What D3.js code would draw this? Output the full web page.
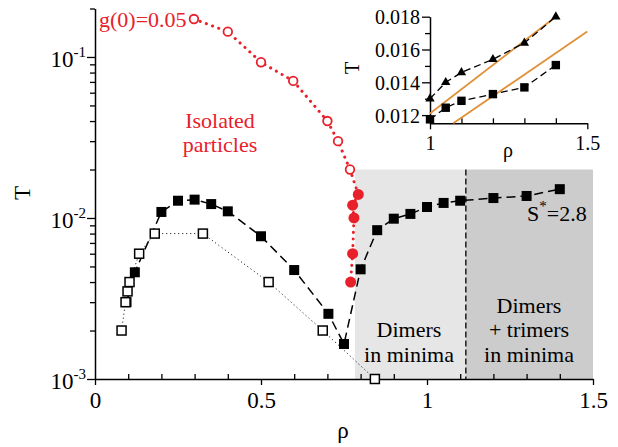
<!DOCTYPE html>
<html>
<head>
<meta charset="utf-8">
<script src="https://cdn.jsdelivr.net/npm/d3@7"></script>
<style>
  body { margin: 0; background: #fff; }
  svg text { font-family: "Liberation Serif", "Times New Roman", serif; }
</style>
</head>
<body>
<div id="chart"></div>
<script>
// main panel data
const rhoFilled = [0.095, 0.12, 0.2, 0.25, 0.3, 0.35, 0.4, 0.5, 0.6, 0.703, 0.75,
                   0.8, 0.85, 0.9, 0.95, 1.0, 1.05, 1.1, 1.2, 1.3, 1.4];
const tFilled = [0.003, 0.0046, 0.0109, 0.0128, 0.013, 0.0122, 0.011, 0.0077, 0.00475, 0.00254, 0.00165,
                 0.0048, 0.0084, 0.0099, 0.0106, 0.0117, 0.0124, 0.0128, 0.0133, 0.0137, 0.0151];
const rhoOpen = [0.08, 0.092, 0.098, 0.104, 0.133, 0.18, 0.325, 0.523, 0.686, 0.843];
const tOpen = [0.002, 0.003, 0.0035, 0.004, 0.006, 0.008, 0.008, 0.004, 0.002, 0.001];
const rhoRedOpen = [0.298, 0.4, 0.5, 0.597, 0.7, 0.732, 0.768];
const tRedOpen = [0.172, 0.1436, 0.0927, 0.071, 0.040, 0.030, 0.020];
const rhoRedFilled = [0.793, 0.776, 0.780, 0.776, 0.770];
const tRedFilled = [0.014, 0.012, 0.010, 0.006, 0.004];
const regionEdges = [0.783, 1.117, 1.5]; // dimers | dimers + trimers
const regionTop = 0.02;
const xMajor = [0, 0.5, 1, 1.5];
const xMinor = [0.1, 0.2, 0.3, 0.4, 0.6, 0.7, 0.8, 0.9, 1.1, 1.2, 1.3, 1.4];
const yMajor = [1e-3, 1e-2, 1e-1];
const yExp = ['-3', '-2', '-1'];

// inset data
const insetRho = [1.0, 1.05, 1.1, 1.2, 1.3, 1.4];
const insetTri = [0.0130, 0.0140, 0.0146, 0.0154, 0.0164, 0.0180];
const insetSq = [0.01174, 0.01245, 0.01287, 0.01328, 0.01369, 0.01505];
const fitA = [[1.0, 0.0121], [1.4, 0.0180]];
const fitB = [[1.074, 0.0115], [1.5, 0.0171]];
const insetYMajor = [0.012, 0.014, 0.016, 0.018];
const insetYMinor = [0.013, 0.015, 0.017];
const insetXMajor = [1, 1.5];
const insetXMinor = [1.1, 1.2, 1.3, 1.4];

const red = '#e8202a';
const orange = '#e0913a';

const svg = d3.select('#chart').append('svg')
  .attr('width', 618).attr('height', 447);

const x = d3.scaleLinear().domain([0, 1.5]).range([95, 593]);
const y = d3.scaleLog().domain([0.001, 0.2]).range([379, 8.5]);

// shaded regions
svg.append('rect')
  .attr('x', x(regionEdges[0])).attr('y', y(regionTop))
  .attr('width', x(regionEdges[1]) - x(regionEdges[0]))
  .attr('height', y(0.001) - y(regionTop))
  .attr('fill', '#e6e6e6');
svg.append('rect')
  .attr('x', x(regionEdges[1])).attr('y', y(regionTop))
  .attr('width', x(regionEdges[2]) - x(regionEdges[1]))
  .attr('height', y(0.001) - y(regionTop))
  .attr('fill', '#cccccc');
svg.append('line')
  .attr('x1', x(regionEdges[1])).attr('x2', x(regionEdges[1]))
  .attr('y1', y(regionTop)).attr('y2', y(0.001))
  .attr('stroke', '#000').attr('stroke-width', 1.3)
  .attr('stroke-dasharray', '6,3');

// axes
function styleAxis(g) {
  g.selectAll('path').attr('stroke', '#000').attr('stroke-width', 1.5);
  g.selectAll('line').attr('stroke', '#000').attr('stroke-width', 1.3);
}
svg.append('g').attr('transform', 'translate(0,379)')
  .call(d3.axisBottom(x).tickValues(xMajor).tickSize(6).tickSizeOuter(0).tickFormat(d3.format('')))
  .call(styleAxis)
  .call(g => g.selectAll('text').attr('font-size', 23).attr('dy', 0).attr('y', 29)
    .attr('fill', '#000').style('font-family', '"Liberation Serif", serif'));
svg.append('g').attr('transform', 'translate(0,379)')
  .call(d3.axisBottom(x).tickValues(xMinor).tickSize(-5).tickSizeOuter(0).tickFormat(''))
  .call(styleAxis)
  .call(g => g.select('path').remove());

const yMinor = [];
[1e-3, 1e-2, 1e-1].forEach(d => [2, 3, 4, 5, 6, 7, 8, 9].forEach(k => {
  if (k * d <= 0.2) yMinor.push(k * d);
}));
svg.append('g').attr('transform', 'translate(95,0)')
  .call(d3.axisLeft(y).tickValues(yMajor).tickSize(8).tickSizeOuter(0).tickFormat(''))
  .call(styleAxis);
svg.append('g').attr('transform', 'translate(95,0)')
  .call(d3.axisLeft(y).tickValues(yMinor).tickSize(5).tickFormat(''))
  .call(styleAxis)
  .call(g => g.select('path').remove());
yMajor.forEach((d, i) => {
  const t = svg.append('text')
    .attr('x', 86).attr('y', y(d) + 10)
    .attr('text-anchor', 'end').attr('font-size', 23);
  t.append('tspan').text('10');
  t.append('tspan').attr('dy', -10).attr('font-size', 15).text(yExp[i]);
});

svg.append('text').attr('x', 343).attr('y', 438).attr('text-anchor', 'middle')
  .attr('font-size', 23).text('ρ');
svg.append('text').attr('transform', 'translate(30,193) rotate(-90)')
  .attr('text-anchor', 'middle').attr('font-size', 23).text('T');

// lines
const line = d3.line().x(d => x(d[0])).y(d => y(d[1]));
const filledPts = d3.zip(rhoFilled, tFilled);
const openPts = d3.zip(rhoOpen, tOpen);
const redPts = d3.zip(rhoRedOpen, tRedOpen).concat(d3.zip(rhoRedFilled, tRedFilled));

svg.append('path').datum(openPts).attr('d', line)
  .attr('fill', 'none').attr('stroke', '#000').attr('stroke-width', 1)
  .attr('stroke-dasharray', '1,3');
svg.append('path').datum(filledPts).attr('d', line)
  .attr('fill', 'none').attr('stroke', '#000').attr('stroke-width', 1.5)
  .attr('stroke-dasharray', '9,5');
svg.append('path').datum(redPts).attr('d', line)
  .attr('fill', 'none').attr('stroke', red).attr('stroke-width', 3)
  .attr('stroke-linecap', 'round').attr('stroke-dasharray', '0.1,6.5');

// markers
svg.selectAll('rect.filled').data(filledPts).join('rect').attr('class', 'filled')
  .attr('x', d => x(d[0]) - 5).attr('y', d => y(d[1]) - 5)
  .attr('width', 10).attr('height', 10).attr('fill', '#000');
svg.selectAll('rect.open').data(openPts).join('rect').attr('class', 'open')
  .attr('x', d => x(d[0]) - 4.5).attr('y', d => y(d[1]) - 4.5)
  .attr('width', 9).attr('height', 9)
  .attr('fill', '#fff').attr('stroke', '#000').attr('stroke-width', 1.5);
svg.selectAll('circle.ro').data(d3.zip(rhoRedOpen, tRedOpen)).join('circle').attr('class', 'ro')
  .attr('cx', d => x(d[0])).attr('cy', d => y(d[1])).attr('r', 4.3)
  .attr('fill', '#fff').attr('stroke', red).attr('stroke-width', 1.8);
svg.selectAll('circle.rf').data(d3.zip(rhoRedFilled, tRedFilled)).join('circle').attr('class', 'rf')
  .attr('cx', d => x(d[0])).attr('cy', d => y(d[1])).attr('r', 5.5)
  .attr('fill', red);

// annotations
svg.append('text').attr('x', 99).attr('y', 27).attr('font-size', 22)
  .attr('fill', red).text('g(0)=0.05');
svg.append('text').attr('x', 220).attr('y', 128).attr('text-anchor', 'middle')
  .attr('font-size', 22).attr('fill', red).text('Isolated');
svg.append('text').attr('x', 220).attr('y', 152).attr('text-anchor', 'middle')
  .attr('font-size', 22).attr('fill', red).text('particles');
[['Dimers', 337], ['in minima', 362]].forEach(([s, yy]) =>
  svg.append('text').attr('x', 409).attr('y', yy).attr('text-anchor', 'middle')
    .attr('font-size', 22).text(s));
[['Dimers', 313], ['+ trimers', 337], ['in minima', 362]].forEach(([s, yy]) =>
  svg.append('text').attr('x', 529).attr('y', yy).attr('text-anchor', 'middle')
    .attr('font-size', 22).text(s));
const sLab = svg.append('text').attr('x', 527).attr('y', 221).attr('font-size', 22);
sLab.append('tspan').text('S');
sLab.append('tspan').attr('dy', -10).attr('font-size', 15).text('*');
sLab.append('tspan').attr('dy', 10).text('=2.8');

// inset
const xi = d3.scaleLinear().domain([1, 1.5]).range([430, 587.3]);
const yi = d3.scaleLinear().domain([0.0115, 0.018]).range([123.3, 16.7]);

svg.append('g').attr('transform', 'translate(0,123.3)')
  .call(d3.axisBottom(xi).tickValues(insetXMajor).tickSize(6).tickSizeOuter(0).tickFormat(d3.format('')))
  .call(styleAxis)
  .call(g => g.selectAll('text').attr('font-size', 20).attr('dy', 0).attr('y', 27)
    .attr('fill', '#000').style('font-family', '"Liberation Serif", serif'));
svg.append('g').attr('transform', 'translate(0,123.3)')
  .call(d3.axisBottom(xi).tickValues(insetXMinor).tickSize(-5).tickFormat(''))
  .call(styleAxis)
  .call(g => g.select('path').remove());
svg.append('g').attr('transform', 'translate(430,0)')
  .call(d3.axisLeft(yi).tickValues(insetYMajor).tickSize(8).tickSizeOuter(0).tickFormat(d3.format('.3f')))
  .call(styleAxis)
  .call(g => g.selectAll('text').attr('font-size', 20).attr('dy', 0).attr('x', -10)
    .attr('y', 7).attr('fill', '#000').style('font-family', '"Liberation Serif", serif'));
svg.append('g').attr('transform', 'translate(430,0)')
  .call(d3.axisLeft(yi).tickValues(insetYMinor).tickSize(5).tickFormat(''))
  .call(styleAxis)
  .call(g => g.select('path').remove());
svg.append('text').attr('x', 508).attr('y', 157).attr('text-anchor', 'middle')
  .attr('font-size', 20).text('ρ');
svg.append('text').attr('transform', 'translate(359,68) rotate(-90)')
  .attr('text-anchor', 'middle').attr('font-size', 20).text('T');

const li = d3.line().x(d => xi(d[0])).y(d => yi(d[1]));
[fitA, fitB].forEach(f => svg.append('path').datum(f).attr('d', li)
  .attr('fill', 'none').attr('stroke', orange).attr('stroke-width', 1.8));
const triPts = d3.zip(insetRho, insetTri);
const sqPts = d3.zip(insetRho, insetSq);
[triPts, sqPts].forEach(p => svg.append('path').datum(p).attr('d', li)
  .attr('fill', 'none').attr('stroke', '#000').attr('stroke-width', 1.3)
  .attr('stroke-dasharray', '7,4'));
svg.selectAll('path.tri').data(triPts).join('path').attr('class', 'tri')
  .attr('transform', d => `translate(${xi(d[0])},${yi(d[1])})`)
  .attr('d', d3.symbol(d3.symbolTriangle, 38)).attr('fill', '#000');
svg.selectAll('rect.isq').data(sqPts).join('rect').attr('class', 'isq')
  .attr('x', d => xi(d[0]) - 4.2).attr('y', d => yi(d[1]) - 4.2)
  .attr('width', 8.4).attr('height', 8.4).attr('fill', '#000');
</script>
</body>
</html>
